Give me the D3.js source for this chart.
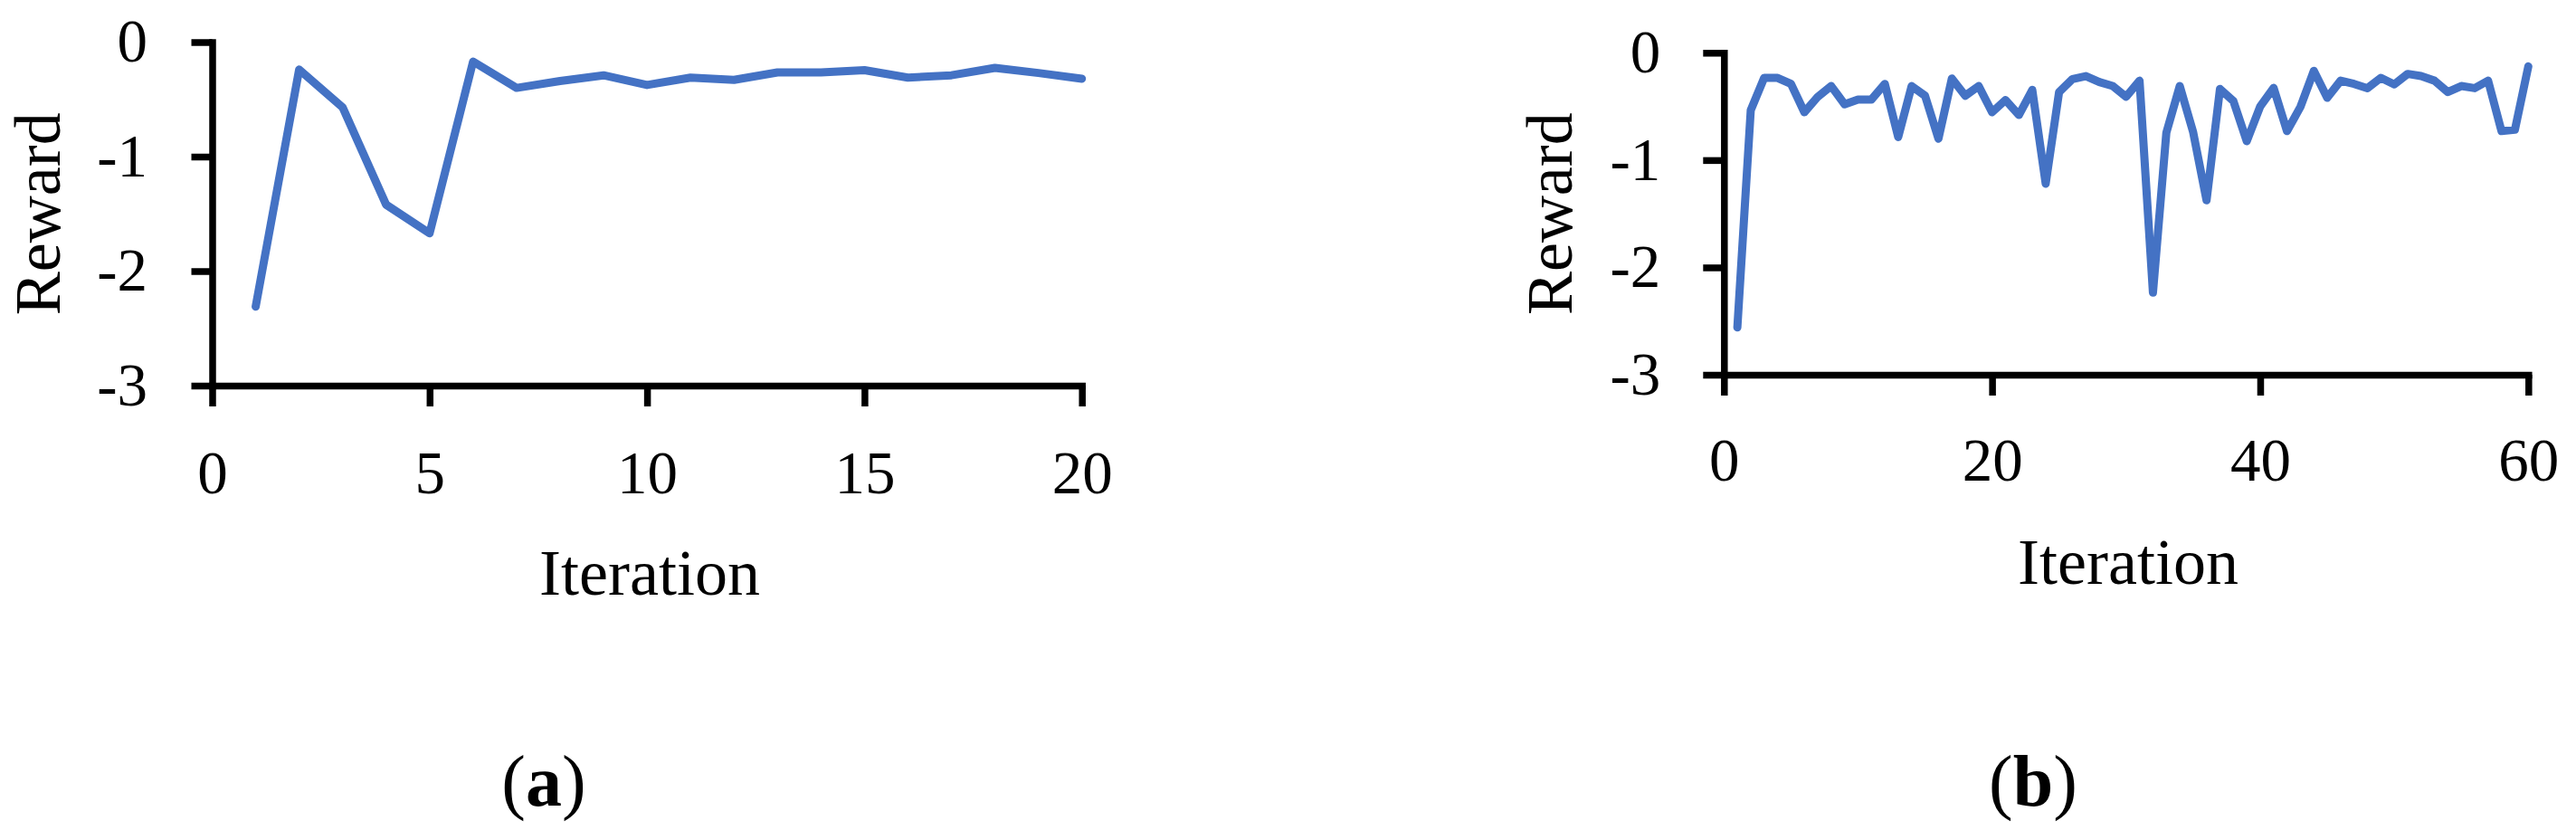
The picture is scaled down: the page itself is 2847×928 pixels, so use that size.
<!DOCTYPE html>
<html><head><meta charset="utf-8">
<script src="https://cdn.jsdelivr.net/npm/d3@7"></script>
<style>body{margin:0;background:#fff} svg{display:block;background:#fff}</style>
</head><body>
<svg id="chart" width="2847" height="928"></svg>
<script>
// ---- data ----
const iterA = [1,2,3,4,5,6,7,8,9,10,11,12,13,14,15,16,17,18,19,20];
const rewardA = [-2.31,-0.24,-0.57,-1.42,-1.67,-0.17,-0.40,-0.34,-0.29,-0.375,
                 -0.31,-0.33,-0.265,-0.265,-0.245,-0.31,-0.29,-0.225,-0.27,-0.32];
const iterB = [1,2,3,4,5,6,7,8,9,10,11,12,13,14,15,16,17,18,19,20,
               21,22,23,24,25,26,27,28,29,30,31,32,33,34,35,36,37,38,39,40,
               41,42,43,44,45,46,47,48,49,50,51,52,53,54,55,56,57,58,59,60];
const rewardB = [-2.56,-0.535,-0.234,-0.234,-0.29,-0.554,-0.41,-0.31,-0.48,-0.436,
                 -0.436,-0.29,-0.785,-0.31,-0.40,-0.80,-0.24,-0.40,-0.31,-0.554,
                 -0.44,-0.58,-0.346,-1.22,-0.366,-0.245,-0.217,-0.273,-0.31,-0.41,
                 -0.26,-2.235,-0.745,-0.31,-0.74,-1.375,-0.337,-0.45,-0.824,-0.50,
                 -0.327,-0.73,-0.505,-0.169,-0.42,-0.26,-0.29,-0.33,-0.234,-0.295,
                 -0.197,-0.217,-0.26,-0.366,-0.31,-0.33,-0.26,-0.73,-0.717,-0.127];
const yTicks = [0,-1,-2,-3];
const xTicksA = [0,5,10,15,20];
const xTicksB = [0,20,40,60];
const yTitle = "Reward";
const xTitle = "Iteration";

// ---- layout ----
const panels = [
  {it: iterA, rw: rewardA, xDom:[0,20], xTicks: xTicksA,
   xr:[234.5,1195.7], yr:[426,46.5], yPad:48.5, xPad:48,
   yTitleX:66, xTitleX:718, xTitleY:656.7, cap:"a", capX:601},
  {it: iterB, rw: rewardB, xDom:[0,60], xTicks: xTicksB,
   xr:[1905.3,2794.3], yr:[414,58.3], yPad:47, xPad:46.8,
   yTitleX:1736.7, xTitleX:2352, xTitleY:645, cap:"b", capX:2247}
];
const FONT = "'Liberation Serif','Times New Roman',serif";
const svg = d3.select("#chart");
svg.append("rect").attr("width",2847).attr("height",928).attr("fill","#fff");

panels.forEach(p => {
  const x = d3.scaleLinear().domain(p.xDom).range(p.xr);
  const y = d3.scaleLinear().domain([-3,0]).range(p.yr);
  const g = svg.append("g");

  const yAx = g.append("g").attr("transform",`translate(${p.xr[0]},0)`)
    .call(d3.axisLeft(y).tickValues(yTicks).tickSize(23).tickSizeOuter(0)
      .tickPadding(p.yPad).tickFormat(d => String(d)));
  const xAx = g.append("g").attr("transform",`translate(0,${p.yr[0]})`)
    .call(d3.axisBottom(x).tickValues(p.xTicks).tickSize(23).tickSizeOuter(0)
      .tickPadding(p.xPad).tickFormat(d => String(d)));
  [yAx,xAx].forEach(a => {
    a.attr("font-family",FONT).attr("font-size",67);
    a.selectAll("path.domain").attr("stroke","#000").attr("stroke-width",7.5).attr("stroke-linecap","square");
    a.selectAll(".tick line").attr("stroke","#000").attr("stroke-width",7.5);
    a.selectAll(".tick text").attr("fill","#000");
  });

  const line = d3.line().x((d,i) => x(p.it[i])).y(d => y(d));
  g.append("path").datum(p.rw).attr("d",line).attr("fill","none")
    .attr("stroke","#4472C4").attr("stroke-width",9)
    .attr("stroke-linejoin","round").attr("stroke-linecap","round");

  g.append("text").attr("transform",`translate(${p.yTitleX},${(p.yr[0]+p.yr[1])/2}) rotate(-90)`)
    .attr("text-anchor","middle").attr("font-family",FONT).attr("font-size",72).text(yTitle);
  g.append("text").attr("x",p.xTitleX).attr("y",p.xTitleY)
    .attr("text-anchor","middle").attr("font-family",FONT).attr("font-size",72).text(xTitle);

  const c = g.append("text").attr("x",p.capX).attr("y",890)
    .attr("text-anchor","middle").attr("font-family",FONT).attr("font-size",80);
  c.append("tspan").text("(");
  c.append("tspan").attr("font-weight","bold").text(p.cap);
  c.append("tspan").text(")");
});
</script>
</body></html>
